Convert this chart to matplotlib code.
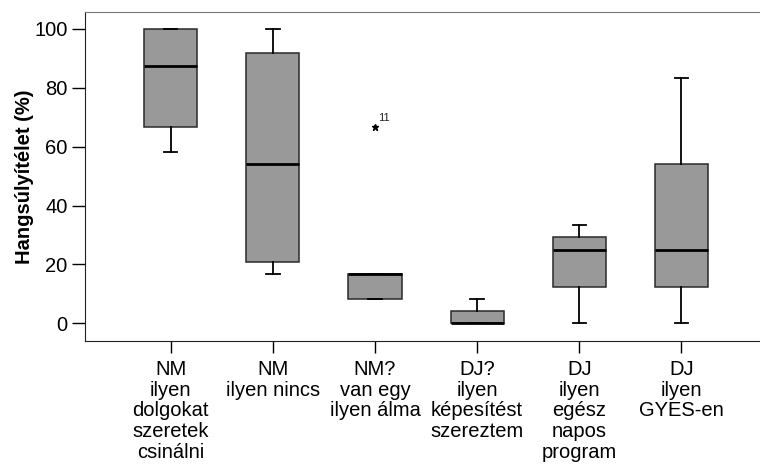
import matplotlib
matplotlib.use("Agg")
import matplotlib.pyplot as plt

plt.rcParams['font.family'] = ['Liberation Sans', 'DejaVu Sans']

# groups on the x axis
labels = [
    "NM\nilyen\ndolgokat\nszeretek\ncsinálni",
    "NM\nilyen nincs",
    "NM?\nvan egy\nilyen álma",
    "DJ?\nilyen\nképesítést\nszereztem",
    "DJ\nilyen\negész\nnapos\nprogram",
    "DJ\nilyen\nGYES-en",
]
# box statistics (%)
whislo = [58.33, 16.67, 8.33, 0.0, 0.0, 0.0]
q1 = [66.67, 20.83, 8.33, 0.0, 12.5, 12.5]
med = [87.5, 54.17, 16.67, 0.0, 25.0, 25.0]
q3 = [100.0, 91.67, 16.67, 4.17, 29.17, 54.17]
whishi = [100.0, 100.0, 16.67, 8.33, 33.33, 83.33]
fliers = [[], [], [66.67], [], [], []]
flier_ids = {2: "11"}

stats = []
for i in range(len(labels)):
    stats.append(dict(whislo=whislo[i], q1=q1[i], med=med[i], q3=q3[i],
                      whishi=whishi[i], fliers=fliers[i]))

fig = plt.figure(figsize=(7.6, 4.66), dpi=100)
ax = fig.add_axes([85 / 760, 1 - 341 / 466, 1 - 85 / 760, 329 / 466])

pos = list(range(1, len(labels) + 1))
ax.bxp(stats, positions=pos, widths=0.52, patch_artist=True,
       boxprops=dict(facecolor='#999999', edgecolor='#2a2a2a', linewidth=1.1),
       medianprops=dict(color='black', linewidth=2),
       whiskerprops=dict(color='black', linewidth=1.3),
       capprops=dict(color='black', linewidth=1.3),
       capwidths=0.13,
       flierprops=dict(marker='*', markersize=5, markerfacecolor='black',
                       markeredgecolor='black'))

for i, txt in flier_ids.items():
    for v in fliers[i]:
        ax.annotate(txt, (pos[i], v), xytext=(2, 4), textcoords='offset points',
                    fontsize=8, color='#222222')

ax.set_xlim(0.16, 6.77)
ax.set_ylim(-6.0, 105.7)
ax.set_yticks([0, 20, 40, 60, 80, 100])
ax.set_xticks(pos)
ax.set_xticklabels(labels, fontsize=14.5, linespacing=1.12)
ax.tick_params(axis='y', labelsize=14.5, length=9.5, width=1, direction='out', pad=3)
ax.tick_params(axis='x', length=8.5, width=1, direction='out', pad=5)
ax.set_ylabel("Hangsúlyítélet (%)", fontsize=14.5, fontweight='bold', labelpad=0)

ax.spines['right'].set_visible(False)
ax.spines['top'].set_color('#777777')
ax.spines['left'].set_color('#222222')
ax.spines['bottom'].set_color('#222222')

fig.savefig("out.png", dpi=100)
